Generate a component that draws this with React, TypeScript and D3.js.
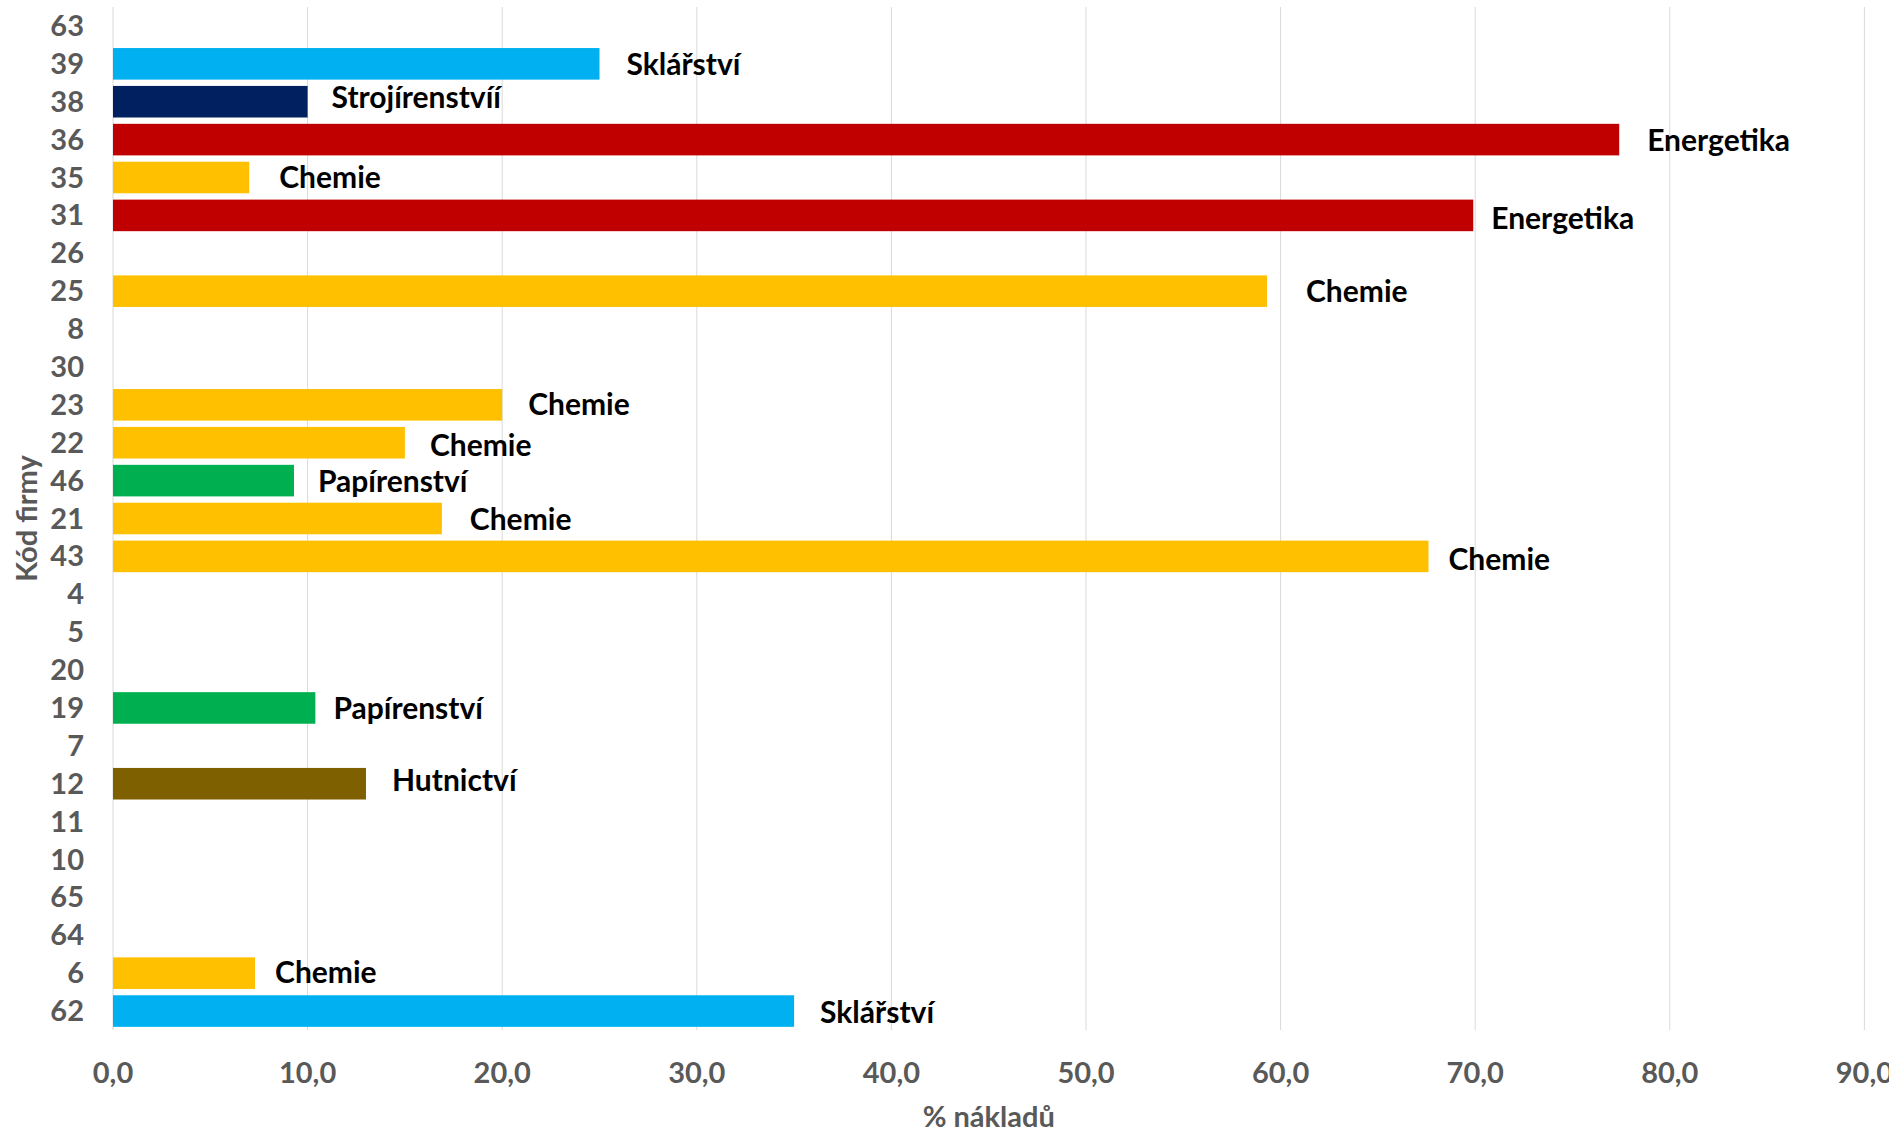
import React from "react";
import * as d3 from "d3";

const categories = ["63","39","38","36","35","31","26","25","8","30","23","22","46","21","43","4","5","20","19","7","12","11","10","65","64","6","62"];
const values = [0,25.0,10.0,77.4,7.0,69.9,0,59.3,0,0,20.0,15.0,9.3,16.9,67.6,0,0,0,10.4,0,13.0,0,0,0,0,7.3,35.0];
const sectors = ["","Sklářství","Strojírenstvíí","Energetika","Chemie","Energetika","","Chemie","","","Chemie","Chemie","Papírenství","Chemie","Chemie","","","","Papírenství","","Hutnictví","","","","","Chemie","Sklářství"];
const xTicks = [0,10,20,30,40,50,60,70,80,90];
const sectorColors: Record<string,string> = {
  "Sklářství": "#00B0F0",
  "Strojírenstvíí": "#002060",
  "Energetika": "#C00000",
  "Chemie": "#FFC000",
  "Papírenství": "#00B050",
  "Hutnictví": "#7F6000",
};
// manual label nudges (dx from bar end, dy from band centre), as in the original
const labelNudge: Record<string,[number,number]> = {
  "39":[27,-1],"38":[24,-6],"36":[28,-1],"35":[30,-2],"31":[18,2],"25":[39,-1],
  "23":[26,-2],"22":[25,1],"46":[24,-1],"21":[28,-1],"43":[20,2],"19":[18,-1],
  "12":[26,-5],"6":[20,-2],"62":[26,0],
};

const W = 1889, H = 1133;
const FONT = "Lato, 'Liberation Sans', sans-serif";

export default function App() {
  const x = d3.scaleLinear().domain([0, 90]).range([113, 1864.4]);
  const y = d3.scaleBand<string>().domain(categories).range([7, 1030]).paddingInner(1/6).paddingOuter(1/12);
  const fmt = (v: number) => d3.format(".1f")(v).replace(".", ",");
  return (
    <svg width={W} height={H} style={{position:"absolute", left:0, top:0, background:"#fff"}} fontFamily={FONT}>
      <rect width={W} height={H} fill="#fff" />
      {xTicks.map(t => (
        <line key={t} x1={x(t)} x2={x(t)} y1={7} y2={1030} stroke="#d9d9d9" strokeWidth={1} />
      ))}
      {categories.map((c, i) => values[i] > 0 ? (
        <rect key={c} x={x(0)} y={y(c)!} width={x(values[i]) - x(0)} height={y.bandwidth()} fill={sectorColors[sectors[i]]} />
      ) : null)}
      {categories.map((c, i) => values[i] > 0 ? (
        <text key={"l"+c} x={x(values[i]) + (labelNudge[c]?.[0] ?? 24)} y={y(c)! + y.bandwidth()/2 + (labelNudge[c]?.[1] ?? 0)}
          dominantBaseline="central" fontSize={30} fontWeight="bold" fill="#000">{sectors[i]}</text>
      ) : null)}
      {categories.map(c => (
        <text key={"y"+c} x={84} y={y(c)! + y.bandwidth()/2 - 1.5} textAnchor="end" dominantBaseline="central"
          fontSize={29} fontWeight="bold" fill="#595959">{c}</text>
      ))}
      {xTicks.map(t => (
        <text key={"x"+t} x={x(t)} y={1071} textAnchor="middle" dominantBaseline="central"
          fontSize={29} fontWeight="bold" fill="#595959">{fmt(t)}</text>
      ))}
      <text x={(x(0)+x(90))/2} y={1115} textAnchor="middle" dominantBaseline="central" fontSize={29} fontWeight="bold" fill="#595959">% nákladů</text>
      <text transform={`translate(25,${(7+1030)/2}) rotate(-90)`} textAnchor="middle" dominantBaseline="central" fontSize={29} fontWeight="bold" fill="#595959">Kód firmy</text>
    </svg>
  );
}
